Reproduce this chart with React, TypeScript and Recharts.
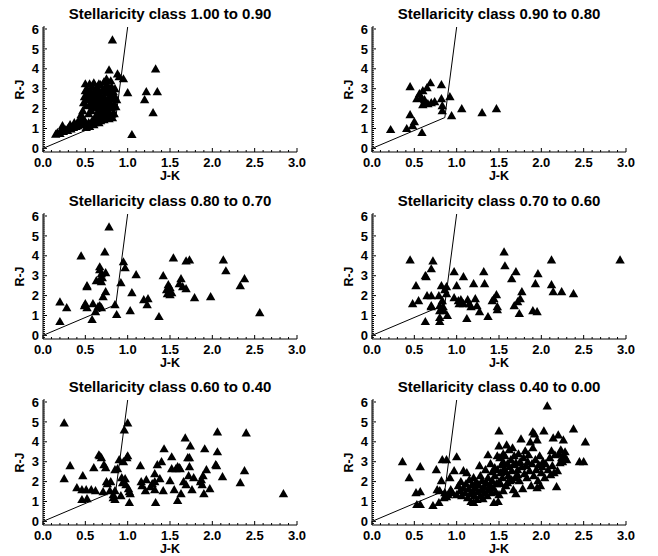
import { ScatterChart, Scatter, XAxis, YAxis } from 'recharts';

const FONT = '"Liberation Sans", Arial, Helvetica, sans-serif';
const W = 329;
const H = 184;

// J-K vs R-J, one list per stellaricity class
const class100to090: [number, number][] = [
  [0.15, 0.72], [0.17, 0.8], [0.2, 0.75], [0.21, 0.9], [0.23, 1.15], [0.24, 0.85], [0.27, 0.95],
  [0.29, 0.9], [0.3, 1.05], [0.32, 1.2], [0.33, 0.98], [0.36, 1.05], [0.37, 1.3], [0.39, 1.1],
  [0.41, 1.15], [0.42, 1.4], [0.44, 1.2], [0.45, 1.7], [0.46, 1.3], [0.48, 1.25], [0.5, 1.35],
  [0.51, 1.05], [0.52, 1.2], [0.54, 1.3], [0.55, 1.1], [0.57, 1.25], [0.58, 1.4], [0.6, 1.2],
  [0.61, 1.3], [0.63, 1.35], [0.65, 1.5], [0.66, 1.3], [0.68, 1.4], [0.7, 1.6], [0.72, 1.45],
  [0.74, 1.55], [0.76, 1.75], [0.78, 1.5], [0.8, 1.65], [0.82, 1.55], [0.84, 1.75],
  [0.47, 1.9], [0.48, 2.3], [0.49, 2.6], [0.5, 2.9], [0.5, 3.25], [0.51, 2.15], [0.52, 2.45],
  [0.52, 3.0], [0.53, 2.75], [0.55, 3.25], [0.55, 2.2], [0.56, 2.55], [0.56, 2.9], [0.57, 1.9],
  [0.58, 2.35], [0.58, 3.1], [0.59, 2.7], [0.6, 3.3], [0.6, 2.05], [0.61, 2.5], [0.62, 2.85],
  [0.62, 2.2], [0.63, 3.05], [0.64, 1.75], [0.64, 2.6], [0.65, 2.35], [0.66, 2.95], [0.66, 1.95],
  [0.67, 2.15], [0.68, 2.7], [0.68, 3.2], [0.69, 2.45], [0.69, 1.8], [0.7, 2.0], [0.7, 2.9],
  [0.71, 2.25], [0.72, 3.35], [0.72, 2.6], [0.73, 1.7], [0.73, 3.05], [0.74, 2.4], [0.74, 2.0],
  [0.75, 2.8], [0.75, 3.5], [0.76, 2.15], [0.76, 3.2], [0.77, 2.55], [0.77, 1.9], [0.78, 2.95],
  [0.78, 3.95], [0.78, 1.6], [0.79, 2.3], [0.8, 2.7], [0.8, 3.4], [0.81, 2.05], [0.81, 3.1],
  [0.82, 2.5], [0.82, 5.45], [0.83, 2.85], [0.83, 1.8], [0.84, 2.25], [0.85, 3.0], [0.85, 2.6],
  [0.86, 2.1], [0.87, 2.45], [0.88, 3.75], [0.9, 3.6], [0.95, 3.5], [1.0, 2.8], [1.05, 0.7],
  [1.22, 2.85], [1.2, 2.45], [1.3, 1.8], [1.33, 4.0], [1.35, 2.85],
  [0.54, 1.75], [0.62, 1.6], [0.7, 1.85], [0.4, 1.25], [0.47, 1.55], [0.58, 2.05], [0.66, 3.25],
];

const class090to080: [number, number][] = [
  [0.22, 0.95], [0.41, 1.0], [0.45, 3.1], [0.45, 1.7], [0.48, 1.15], [0.5, 1.35], [0.53, 2.5],
  [0.56, 2.75], [0.58, 2.55], [0.6, 2.9], [0.6, 2.2], [0.62, 2.45], [0.63, 2.3], [0.65, 3.05],
  [0.66, 2.25], [0.69, 3.3], [0.7, 2.3], [0.74, 2.35], [0.59, 0.8], [0.82, 3.2], [0.82, 2.5],
  [0.83, 2.15], [0.83, 1.9], [0.92, 2.6], [0.94, 1.65], [1.06, 2.0], [1.3, 1.8], [1.47, 2.0],
];

const class080to070: [number, number][] = [
  [0.2, 1.69], [0.2, 0.7], [0.28, 1.4], [0.45, 4.0], [0.52, 2.5], [0.52, 2.45], [0.5, 1.6],
  [0.52, 1.4], [0.49, 1.5], [0.59, 1.6], [0.58, 0.8], [0.62, 1.2], [0.65, 1.45], [0.63, 2.75],
  [0.67, 3.45], [0.67, 3.3], [0.69, 3.1], [0.67, 2.8], [0.7, 2.9], [0.69, 2.7], [0.71, 1.95],
  [0.67, 1.5], [0.69, 1.4], [0.73, 4.2], [0.74, 3.15], [0.74, 2.2], [0.78, 5.45], [0.85, 1.55],
  [0.87, 1.05], [0.92, 2.65], [0.95, 3.7], [0.97, 3.4], [1.03, 1.25], [1.05, 2.15], [1.1, 3.05],
  [1.19, 1.8], [1.24, 1.85], [1.23, 1.55], [1.37, 0.95], [1.42, 3.0], [1.46, 2.3], [1.47, 2.1],
  [1.48, 2.55], [1.5, 2.4], [1.5, 2.05], [1.52, 2.15], [1.54, 3.9], [1.61, 2.6], [1.63, 2.85],
  [1.65, 2.45], [1.69, 2.35], [1.69, 3.75], [1.73, 3.8], [1.79, 1.9], [1.98, 1.95], [2.13, 3.8],
  [2.16, 3.25], [2.33, 2.5], [2.38, 2.85], [2.56, 1.15],
];

const class070to060: [number, number][] = [
  [0.45, 3.8], [0.48, 1.6], [0.52, 2.5], [0.55, 1.75], [0.63, 3.0], [0.64, 2.95], [0.63, 0.7],
  [0.65, 2.0], [0.7, 2.0], [0.7, 1.5], [0.7, 1.45], [0.7, 3.35], [0.72, 3.75], [0.79, 2.0],
  [0.8, 1.5], [0.8, 1.25], [0.8, 0.9], [0.8, 0.7], [0.82, 2.5], [0.83, 1.75], [0.84, 1.45],
  [0.86, 2.3], [0.88, 2.45], [0.88, 2.1], [0.89, 1.0], [0.85, 1.25], [0.97, 3.2], [0.97, 1.9],
  [1.0, 2.5], [1.02, 1.75], [1.03, 1.6], [1.05, 1.8], [1.08, 2.95], [1.08, 1.6], [1.12, 0.85],
  [1.13, 1.8], [1.15, 1.6], [1.17, 1.45], [1.2, 2.6], [1.22, 1.85], [1.24, 1.5], [1.27, 1.2],
  [1.32, 3.2], [1.33, 2.6], [1.37, 0.95], [1.42, 1.75], [1.44, 1.85], [1.47, 2.05], [1.48, 1.45],
  [1.48, 1.3], [1.56, 4.2], [1.57, 3.5], [1.65, 2.85], [1.7, 3.2], [1.68, 1.5], [1.72, 1.7],
  [1.75, 1.85], [1.77, 2.2], [1.74, 1.1], [1.9, 1.25], [1.95, 1.2], [1.93, 2.6], [1.96, 3.1],
  [2.12, 3.8], [2.12, 2.55], [2.14, 2.2], [2.24, 2.2], [2.38, 2.1], [2.93, 3.8],
];

const class060to040: [number, number][] = [
  [0.25, 4.95], [0.25, 2.15], [0.32, 2.8], [0.4, 1.7], [0.47, 2.3], [0.46, 1.1], [0.46, 1.6],
  [0.52, 1.15], [0.51, 1.6], [0.57, 1.6], [0.6, 2.7], [0.62, 1.55], [0.66, 3.35], [0.67, 3.3],
  [0.69, 3.2], [0.72, 2.85], [0.74, 2.7], [0.71, 1.5], [0.75, 2.0], [0.76, 1.9], [0.8, 2.0],
  [0.79, 1.55], [0.83, 1.35], [0.85, 1.1], [0.83, 1.2], [0.85, 1.55], [0.85, 2.6], [0.88, 2.65],
  [0.9, 3.1], [0.92, 1.3], [0.93, 2.2], [0.94, 1.95], [0.95, 3.0], [0.96, 4.6], [1.0, 4.95],
  [1.0, 3.3], [0.99, 3.2], [0.97, 2.15], [0.98, 1.85], [1.01, 1.65], [1.02, 1.5], [1.03, 1.4],
  [1.02, 0.95], [1.15, 2.8], [1.16, 2.0], [1.17, 1.8], [1.21, 1.55], [1.22, 2.1], [1.27, 1.75],
  [1.29, 1.9], [1.32, 2.0], [1.32, 2.4], [1.33, 0.95], [1.32, 1.6], [1.35, 2.85], [1.38, 2.15],
  [1.4, 3.0], [1.43, 3.65], [1.42, 1.55], [1.5, 2.05], [1.52, 2.65], [1.52, 3.25], [1.55, 1.6],
  [1.57, 2.65], [1.59, 1.05], [1.59, 2.75], [1.61, 2.7], [1.63, 1.4], [1.62, 2.65], [1.66, 2.0],
  [1.68, 4.2], [1.69, 1.85], [1.71, 3.2], [1.72, 2.3], [1.73, 2.75], [1.73, 3.2], [1.74, 3.8],
  [1.76, 1.6], [1.78, 2.2], [1.86, 2.0], [1.87, 2.1], [1.88, 1.85], [1.89, 2.3], [1.9, 1.4],
  [1.91, 3.65], [1.93, 2.6], [1.97, 1.65], [2.04, 2.85], [2.05, 2.8], [2.06, 4.5], [2.06, 3.5],
  [2.12, 2.25], [2.33, 1.95], [2.38, 2.55], [2.4, 4.45], [2.84, 1.4],
];

const class040to000: [number, number][] = [
  [0.36, 3.0], [0.44, 2.2], [0.52, 1.45], [0.57, 1.5], [0.53, 0.85], [0.57, 0.85], [0.57, 2.75],
  [0.72, 0.8], [0.76, 2.6], [0.79, 0.95], [0.77, 1.6], [0.8, 1.55], [0.83, 3.1], [0.88, 3.1],
  [0.82, 2.05], [0.86, 1.45], [0.88, 1.25], [0.92, 2.2], [0.93, 1.6], [0.97, 2.55], [1.0, 3.25],
  [0.85, 1.2], [0.9, 1.35], [0.95, 1.45],
  [1.0, 1.35], [1.02, 1.8], [1.04, 1.55], [1.05, 2.0], [1.06, 1.3], [1.08, 1.7], [1.08, 2.55],
  [1.1, 1.45], [1.11, 1.9], [1.12, 2.45], [1.13, 1.2], [1.14, 1.65], [1.15, 2.1], [1.16, 1.4],
  [1.17, 1.0], [1.18, 1.85], [1.19, 1.55], [1.2, 0.95], [1.2, 2.2], [1.21, 1.3], [1.22, 1.7],
  [1.23, 2.0], [1.24, 1.1], [1.25, 1.5], [1.26, 1.85], [1.27, 2.8], [1.28, 1.3], [1.28, 2.3],
  [1.29, 1.6], [1.3, 2.05], [1.31, 1.15], [1.32, 1.75], [1.33, 1.45], [1.34, 2.6], [1.35, 1.95],
  [1.36, 1.3], [1.37, 3.35], [1.37, 2.2], [1.38, 1.6], [1.39, 1.85], [1.4, 2.9], [1.41, 1.45],
  [1.42, 2.05], [1.43, 1.7], [1.44, 0.95], [1.45, 2.3], [1.46, 1.5], [1.47, 1.9], [1.48, 2.6],
  [1.49, 1.0], [1.5, 1.35], [1.5, 2.0], [1.45, 2.7], [1.42, 2.5], [1.48, 3.3],
  [1.5, 3.8], [1.5, 4.55], [1.51, 3.2], [1.52, 2.45], [1.52, 1.9], [1.53, 2.85], [1.54, 2.2],
  [1.55, 3.0], [1.55, 1.55], [1.55, 3.4], [1.56, 2.65], [1.57, 3.3], [1.58, 1.8], [1.58, 2.5],
  [1.59, 3.85], [1.6, 2.9], [1.6, 1.95], [1.61, 2.3], [1.62, 3.6], [1.62, 2.75], [1.63, 2.05],
  [1.64, 3.1], [1.65, 2.55], [1.65, 2.1], [1.66, 3.7], [1.67, 1.6], [1.67, 2.85], [1.68, 3.3],
  [1.69, 2.2], [1.7, 1.4], [1.7, 2.95], [1.72, 2.6], [1.72, 2.35], [1.73, 3.4], [1.74, 2.05],
  [1.75, 3.0], [1.76, 4.15], [1.77, 2.75], [1.78, 1.65], [1.79, 3.2], [1.8, 2.4], [1.81, 3.55],
  [1.82, 2.8], [1.83, 2.2], [1.84, 3.0], [1.85, 3.35], [1.86, 2.55], [1.87, 4.0], [1.88, 1.8],
  [1.89, 2.9], [1.9, 4.5], [1.9, 3.7], [1.91, 2.3], [1.92, 4.4], [1.93, 3.1], [1.94, 2.6],
  [1.95, 1.7], [1.95, 4.1], [1.96, 2.05], [1.97, 2.85], [1.98, 3.3], [1.99, 1.8], [2.0, 2.45],
  [2.01, 2.75], [2.02, 3.0], [2.03, 4.55], [2.04, 2.2], [2.05, 2.9], [2.07, 5.8], [2.08, 2.6],
  [2.1, 3.2], [2.11, 2.35], [2.12, 3.55], [2.13, 2.8], [2.14, 4.2], [2.15, 2.45], [2.16, 3.35],
  [2.18, 1.75], [2.19, 2.55], [2.2, 4.35], [2.21, 3.4], [2.22, 2.95], [2.23, 3.6], [2.24, 3.2],
  [2.25, 3.0], [2.26, 4.1], [2.27, 3.3], [2.28, 3.5], [2.3, 3.1], [2.38, 4.65], [2.45, 3.0],
  [2.5, 3.0], [2.52, 4.0],
];

// dividing locus drawn in every panel
const locus: [number, number][] = [[0, 0.0], [0.86, 1.55], [1.0, 6.1]];

const panelTitles = [
  'Stellaricity class 1.00 to 0.90',
  'Stellaricity class 0.90 to 0.80',
  'Stellaricity class 0.80 to 0.70',
  'Stellaricity class 0.70 to 0.60',
  'Stellaricity class 0.60 to 0.40',
  'Stellaricity class 0.40 to 0.00',
];
const panelData = [
  class100to090, class090to080, class080to070,
  class070to060, class060to040, class040to000,
];

const X_DOMAIN: [number, number] = [0, 3];
const Y_DOMAIN: [number, number] = [-0.18, 6.1];
const xTicks = Array.from({ length: 31 }, (_, i) => i / 10);
const yTicks = Array.from({ length: 63 }, (_, i) => (i - 1) / 10);
const isMajorX = (v: number) => Math.round(v * 10) % 5 === 0;
const isMajorY = (v: number) => Math.round(v * 10) % 10 === 0;

const toPoints = (arr: [number, number][]) => arr.map(([x, y]) => ({ x, y }));

const Triangle = ({ cx, cy }: any) =>
  cx == null || cy == null ? null : (
    <polygon
      points={`${cx},${cy - 4.6} ${cx - 4.7},${cy + 3.6} ${cx + 4.7},${cy + 3.6}`}
      fill="#000"
    />
  );

const NoDot = () => null;

const BottomTick = ({ x, y, payload }: any) => {
  const major = isMajorX(payload.value);
  return (
    <g>
      <line x1={x} y1={y} x2={x} y2={y - (major ? 4 : 2)} stroke="#000" />
      {major && (
        <text x={x} y={y + 14.5} textAnchor="middle" fontSize={13} fontWeight="bold"
          fontFamily={FONT} fill="#000">
          {payload.value.toFixed(1)}
        </text>
      )}
    </g>
  );
};

const TopTick = ({ x, y, payload }: any) => (
  <line x1={x} y1={y} x2={x} y2={y + (isMajorX(payload.value) ? 4 : 2)} stroke="#000" />
);

const LeftTick = ({ x, y, payload }: any) => {
  const major = isMajorY(payload.value);
  return (
    <g>
      <line x1={x} y1={y} x2={x + (major ? 4 : 2)} y2={y} stroke="#000" />
      {major && payload.value >= 0 && (
        <text x={x - 4} y={y + 4.7} textAnchor="end" fontSize={13} fontWeight="bold"
          fontFamily={FONT} fill="#000">
          {Math.round(payload.value)}
        </text>
      )}
    </g>
  );
};

const RightTick = ({ x, y, payload }: any) => (
  <line x1={x} y1={y} x2={x - (isMajorY(payload.value) ? 4 : 2)} y2={y} stroke="#000" />
);

const Panel = ({ title, data, left, top }: {
  title: string; data: [number, number][]; left: number; top: number;
}) => (
  <div style={{ position: 'absolute', left, top, width: W, height: H }}>
    <div
      style={{
        position: 'absolute', left: 43, top: 5, width: 254, textAlign: 'center',
        fontFamily: FONT, fontWeight: 'bold', fontSize: 15, lineHeight: '18px', color: '#000',
        whiteSpace: 'nowrap',
      }}
    >
      {title}
    </div>
    <ScatterChart width={W} height={H} margin={{ top: 27, right: 32, bottom: 0, left: 0 }}
      style={{ fontFamily: FONT }}>
      <XAxis xAxisId="b" type="number" dataKey="x" domain={X_DOMAIN} ticks={xTicks}
        interval={0} allowDataOverflow tickLine={false} tickSize={0} tickMargin={0}
        axisLine={{ stroke: '#000' }} height={32} tick={BottomTick}
        label={{ value: 'J-K', position: 'insideBottom', offset: 4,
          style: { fontWeight: 'bold', fontSize: 12.5, fill: '#000', fontFamily: FONT } }} />
      <XAxis xAxisId="t" orientation="top" type="number" domain={X_DOMAIN} ticks={xTicks}
        interval={0} allowDataOverflow tickLine={false} tickSize={0} tickMargin={0}
        axisLine={{ stroke: '#000' }} height={0} tick={TopTick} />
      <YAxis yAxisId="l" type="number" dataKey="y" domain={Y_DOMAIN} ticks={yTicks}
        interval={0} allowDataOverflow tickLine={false} tickSize={0} tickMargin={0}
        axisLine={{ stroke: '#000' }} width={43} tick={LeftTick}
        label={{ value: 'R-J', angle: -90, position: 'center', dx: -2,
          style: { fontWeight: 'bold', fontSize: 12.5, fill: '#000', fontFamily: FONT } }} />
      <YAxis yAxisId="r" orientation="right" type="number" domain={Y_DOMAIN} ticks={yTicks}
        interval={0} allowDataOverflow tickLine={false} tickSize={0} tickMargin={0}
        axisLine={{ stroke: '#000' }} width={0} tick={RightTick} />
      <Scatter xAxisId="b" yAxisId="l" data={toPoints(locus)} line={{ stroke: '#000', strokeWidth: 1 }}
        lineType="joint" shape={NoDot} isAnimationActive={false} />
      <Scatter xAxisId="b" yAxisId="l" data={toPoints(data)} shape={Triangle}
        isAnimationActive={false} />
    </ScatterChart>
  </div>
);

const rowTops = [0, 187, 373];
const colLefts = [0, 329];

export default function App() {
  return (
    <div style={{ position: 'absolute', left: 0, top: 0, width: 658, height: 556,
      background: '#fff', overflow: 'hidden' }}>
      {panelTitles.map((t, i) => (
        <Panel key={t} title={t} data={panelData[i]}
          left={colLefts[i % 2]} top={rowTops[Math.floor(i / 2)]} />
      ))}
    </div>
  );
}
